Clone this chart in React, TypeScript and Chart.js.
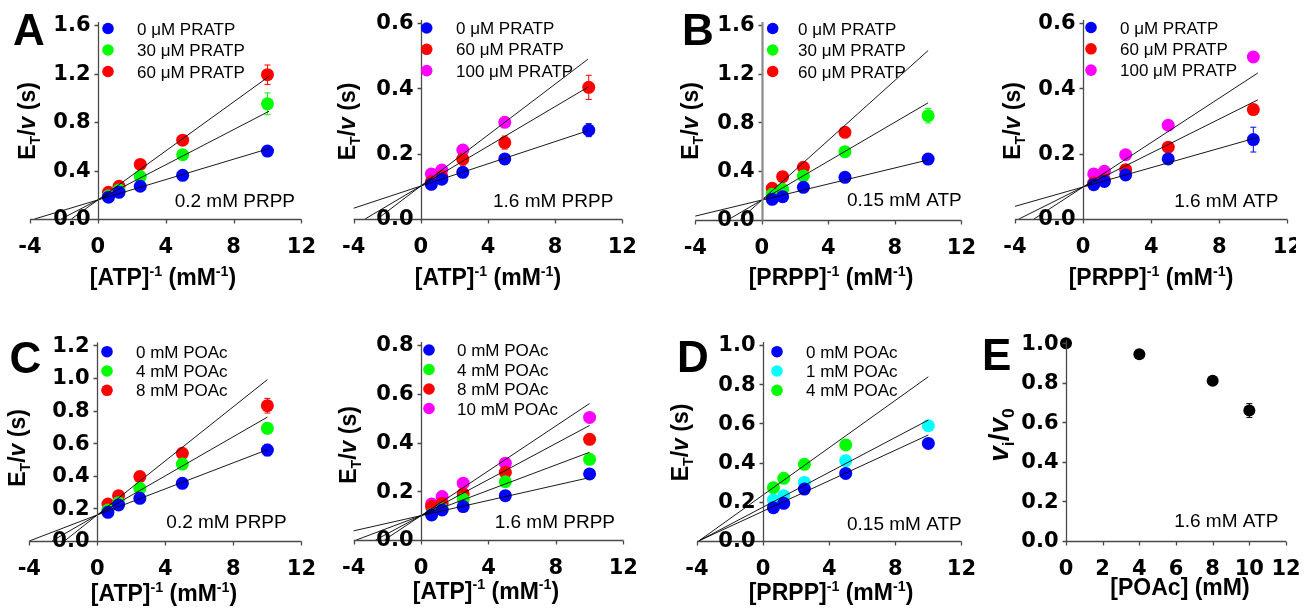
import React, { useEffect, useRef } from 'react';
import { Chart, registerables } from 'chart.js';

Chart.register(...registerables);

// ---------------- data ----------------
const invConc = [0.625, 1.25, 2.5, 5, 10]; // reciprocal substrate conc. (mM^-1)
const poacConc = [0, 4, 8, 10]; // mM

// Panel A, left: 0.2 mM PRPP, ATP varied
const a1Pratp0 = [0.18, 0.22, 0.27, 0.36, 0.56];
const a1Pratp30 = [0.19, 0.24, 0.35, 0.53, 0.95];
const a1Pratp60 = [0.22, 0.27, 0.45, 0.65, 1.19];
const a1Err0 = [0, 0, 0, 0.01, 0.02];
const a1Err30 = [0, 0, 0.02, 0.03, 0.09];
const a1Err60 = [0, 0, 0.02, 0.02, 0.08];
const a1FitSlopes = [0.042, 0.0725, 0.101];
const a1FitIntercepts = [0.157, 0.157, 0.157];
const a1FitEnd = 10.1;

// Panel A, right: 1.6 mM PRPP
const a2Pratp0 = [0.106, 0.122, 0.143, 0.184, 0.272];
const a2Pratp60 = [0.114, 0.13, 0.183, 0.234, 0.403];
const a2Pratp100 = [0.138, 0.15, 0.211, 0.296, null];
const a2Err0 = [0, 0, 0.005, 0.006, 0.02];
const a2Err60 = [0, 0, 0.018, 0.02, 0.037];
const a2Err100 = [0, 0, 0, 0, null];
const a2FitSlopes = [0.017, 0.0304, 0.039];
const a2FitIntercepts = [0.101, 0.101, 0.101];
const a2FitEnd = 9.95;

// Panel B, left: 0.15 mM ATP, PRPP varied
const b1Pratp0 = [0.166, 0.188, 0.265, 0.347, 0.497];
const b1Pratp30 = [0.207, 0.248, 0.358, 0.558, 0.854];
const b1Pratp60 = [0.257, 0.352, 0.429, 0.717, null];
const b1Err0 = [0, 0, 0, 0.01, 0.015];
const b1Err30 = [0, 0, 0.02, 0.04, 0.06];
const b1Err60 = [0, 0, 0.02, 0.02, null];
const b1FitSlopes = [0.033, 0.08, 0.123];
const b1FitIntercepts = [0.16, 0.16, 0.16];
const b1FitEnd = 10.0;

// Panel B, right: 1.6 mM ATP
const b2Pratp0 = [0.105, 0.115, 0.135, 0.184, 0.243];
const b2Pratp60 = [0.11, 0.12, 0.151, 0.22, 0.335];
const b2Pratp100 = [0.138, 0.146, 0.197, 0.287, 0.496];
const b2Err0 = [0, 0, 0.005, 0.008, 0.038];
const b2Err60 = [0, 0, 0.01, 0.01, 0.015];
const b2Err100 = [0, 0, 0, 0, 0.015];
const b2FitSlopes = [0.0148, 0.026, 0.034];
const b2FitIntercepts = [0.098, 0.098, 0.098];
const b2FitEnd = 10.26;

// Panel C, left: 0.2 mM PRPP, ATP varied
const c1Poac0 = [0.176, 0.221, 0.262, 0.354, 0.558];
const c1Poac4 = [0.19, 0.235, 0.323, 0.472, 0.691];
const c1Poac8 = [0.227, 0.278, 0.395, 0.538, 0.83];
const c1Err0 = [0, 0, 0.01, 0.01, 0.035];
const c1Err4 = [0, 0, 0.02, 0.02, 0.02];
const c1Err8 = [0, 0, 0.01, 0.02, 0.045];
const c1FitSlopes = [0.04, 0.06, 0.083];
const c1FitIntercepts = [0.16, 0.16, 0.16];
const c1FitEnd = 10.0;

// Panel C, right: 1.6 mM PRPP
const c2Poac0 = [0.103, 0.123, 0.137, 0.182, 0.271];
const c2Poac4 = [0.105, 0.127, 0.167, 0.239, 0.331];
const c2Poac8 = [0.137, 0.15, 0.189, 0.278, 0.413];
const c2Poac10 = [0.148, 0.178, 0.233, 0.315, 0.503];
const c2Err0 = [0, 0, 0.005, 0.005, 0.01];
const c2Err4 = [0, 0, 0.005, 0.01, 0.01];
const c2Err8 = [0, 0, 0.01, 0.012, 0.01];
const c2Err10 = [0, 0, 0.005, 0.01, 0.01];
const c2FitSlopes = [0.0156, 0.026, 0.037, 0.046];
const c2FitIntercepts = [0.1, 0.1, 0.1, 0.1];
const c2FitEnd = 10.0;

// Panel D: 0.15 mM ATP, PRPP varied
const dPoac0 = [0.17, 0.192, 0.265, 0.345, 0.498];
const dPoac1 = [0.209, 0.231, 0.299, 0.41, 0.588];
const dPoac4 = [0.272, 0.32, 0.391, 0.49, null];
const dErr0 = [0, 0.01, 0.01, 0.01, 0.02];
const dErr1 = [0, 0, 0, 0.01, 0.01];
const dErr4 = [0, 0, 0, 0.01, null];
const dFitSlopes = [0.0389, 0.0444, 0.0603];
const dFitIntercepts = [0.152, 0.173, 0.235];
const dFitEnd = 10.0;

// Panel E: 1.6 mM ATP
const eRatio = [1.0, 0.945, 0.81, 0.66];
const eErr = [0, 0.01, 0.012, 0.035];

// ---------------- styling ----------------
const SANS = '"Liberation Sans", Arial, sans-serif';
const TICK_FAMILY = '"DejaVu Sans", sans-serif';
const TICK_FONT = { family: TICK_FAMILY, size: 21, weight: 'bold' as const };
const BLUE = '#0000ff';
const GREEN = '#00ff00';
const RED = '#ff0000';
const MAGENTA = '#ff00ff';
const CYAN = '#00ffff';
const AXIS = '#4a4a4a';

type Seg = { t: string; sub?: boolean; sup?: boolean; italic?: boolean };
type Series = { label: string; color: string; values: (number | null)[]; errors: (number | null)[] };
type Fits = { slopes: number[]; intercepts: number[]; end: number };
type PanelCfg = {
  key: string;
  canvas: { left: number; top: number; width: number; height: number; clipWidth?: number };
  area: { left: number; top: number; right: number; bottom: number };
  x: { min: number; max: number; step: number };
  y: { max: number; step: number };
  yAxis?: { color: string; width: number };
  letter?: { text: string; x: number; y: number };
  yTitle: { segs: Seg[]; x: number; y: number; size: number };
  xTitle: { segs: Seg[]; x: number; y: number; size: number };
  legend?: { markerX: number; textX: number; y0: number; dy: number };
  note: { text: string; x: number; y: number };
  xs: number[];
  series: Series[];
  fits?: Fits;
  pointRadius: number;
};

const Y_ET: Seg[] = [{ t: 'E' }, { t: 'T', sub: true }, { t: '/' }, { t: 'v', italic: true }, { t: ' (s)' }];
const Y_VIV0: Seg[] = [{ t: 'v', italic: true }, { t: 'i', sub: true }, { t: '/' }, { t: 'v', italic: true }, { t: '0', sub: true }];
const xRecip = (name: string): Seg[] => [
  { t: `[${name}]` },
  { t: '-1', sup: true },
  { t: ' (mM' },
  { t: '-1', sup: true },
  { t: ')' },
];
const X_POAC: Seg[] = [{ t: '[POAc] (mM)' }];

const ser = (label: string, color: string, values: (number | null)[], errors: (number | null)[]): Series => ({
  label,
  color,
  values,
  errors,
});

const PANELS: PanelCfg[] = [
  {
    key: 'A1',
    canvas: { left: 0, top: 0, width: 328, height: 305 },
    area: { left: 30, top: 25, right: 302, bottom: 219 },
    x: { min: -4, max: 12, step: 4 },
    y: { max: 1.6, step: 0.4 },
    letter: { text: 'A', x: 13, y: 45 },
    yTitle: { segs: Y_ET, x: 34.7, y: 121, size: 23 },
    xTitle: { segs: xRecip('ATP'), x: 163, y: 285, size: 23 },
    legend: { markerX: 108, textX: 137, y0: 28.5, dy: 21.5 },
    note: { text: '0.2 mM PRPP', x: 295, y: 207 },
    xs: invConc,
    series: [
      ser('0 μM PRATP', BLUE, a1Pratp0, a1Err0),
      ser('30 μM PRATP', GREEN, a1Pratp30, a1Err30),
      ser('60 μM PRATP', RED, a1Pratp60, a1Err60),
    ],
    fits: { slopes: a1FitSlopes, intercepts: a1FitIntercepts, end: a1FitEnd },
    pointRadius: 6.5,
  },
  {
    key: 'A2',
    canvas: { left: 330, top: 0, width: 328, height: 305 },
    area: { left: 349, top: 23, right: 622.3, bottom: 219 },
    x: { min: -4, max: 12, step: 4 },
    y: { max: 0.6, step: 0.2 },
    yTitle: { segs: Y_ET, x: 354.8, y: 121.5, size: 23 },
    xTitle: { segs: xRecip('ATP'), x: 488, y: 285, size: 23 },
    legend: { markerX: 426.7, textX: 456, y0: 28, dy: 21.3 },
    note: { text: '1.6 mM PRPP', x: 613.3, y: 207 },
    xs: invConc,
    series: [
      ser('0 μM PRATP', BLUE, a2Pratp0, a2Err0),
      ser('60 μM PRATP', RED, a2Pratp60, a2Err60),
      ser('100 μM PRATP', MAGENTA, a2Pratp100, a2Err100),
    ],
    fits: { slopes: a2FitSlopes, intercepts: a2FitIntercepts, end: a2FitEnd },
    pointRadius: 6.5,
  },
  {
    key: 'B1',
    canvas: { left: 660, top: 0, width: 328, height: 305 },
    area: { left: 695.3, top: 25, right: 967.3, bottom: 219.5 },
    x: { min: -4, max: 12, step: 4 },
    y: { max: 1.6, step: 0.4 },
    yAxis: { color: '#8a8a8a', width: 2.2 },
    letter: { text: 'B', x: 682, y: 45 },
    yTitle: { segs: Y_ET, x: 698.2, y: 121, size: 23 },
    xTitle: { segs: xRecip('PRPP'), x: 831, y: 285, size: 23 },
    legend: { markerX: 772.7, textX: 798, y0: 28.5, dy: 21.5 },
    note: { text: '0.15 mM ATP', x: 961.7, y: 206 },
    xs: invConc,
    series: [
      ser('0 μM PRATP', BLUE, b1Pratp0, b1Err0),
      ser('30 μM PRATP', GREEN, b1Pratp30, b1Err30),
      ser('60 μM PRATP', RED, b1Pratp60, b1Err60),
    ],
    fits: { slopes: b1FitSlopes, intercepts: b1FitIntercepts, end: b1FitEnd },
    pointRadius: 6.5,
  },
  {
    key: 'B2',
    canvas: { left: 985, top: 0, width: 329, height: 305, clipWidth: 311 },
    area: { left: 1015, top: 23, right: 1288, bottom: 219 },
    x: { min: -4, max: 12, step: 4 },
    y: { max: 0.6, step: 0.2 },
    yTitle: { segs: Y_ET, x: 1019.7, y: 121, size: 23 },
    xTitle: { segs: xRecip('PRPP'), x: 1151, y: 285, size: 23 },
    legend: { markerX: 1091, textX: 1120, y0: 27.5, dy: 21.3 },
    note: { text: '1.6 mM ATP', x: 1278.3, y: 206.5 },
    xs: invConc,
    series: [
      ser('0 μM PRATP', BLUE, b2Pratp0, b2Err0),
      ser('60 μM PRATP', RED, b2Pratp60, b2Err60),
      ser('100 μM PRATP', MAGENTA, b2Pratp100, b2Err100),
    ],
    fits: { slopes: b2FitSlopes, intercepts: b2FitIntercepts, end: b2FitEnd },
    pointRadius: 6.5,
  },
  {
    key: 'C1',
    canvas: { left: 0, top: 306, width: 328, height: 306 },
    area: { left: 29.3, top: 345.4, right: 301.7, bottom: 541 },
    x: { min: -4, max: 12, step: 4 },
    y: { max: 1.2, step: 0.2 },
    letter: { text: 'C', x: 9.5, y: 373 },
    yTitle: { segs: Y_ET, x: 24.7, y: 448, size: 23 },
    xTitle: { segs: xRecip('ATP'), x: 164, y: 601, size: 23 },
    legend: { markerX: 107, textX: 136, y0: 351.7, dy: 19.3 },
    note: { text: '0.2 mM PRPP', x: 286.7, y: 528 },
    xs: invConc,
    series: [
      ser('0 mM POAc', BLUE, c1Poac0, c1Err0),
      ser('4 mM POAc', GREEN, c1Poac4, c1Err4),
      ser('8 mM POAc', RED, c1Poac8, c1Err8),
    ],
    fits: { slopes: c1FitSlopes, intercepts: c1FitIntercepts, end: c1FitEnd },
    pointRadius: 6.5,
  },
  {
    key: 'C2',
    canvas: { left: 330, top: 306, width: 328, height: 306 },
    area: { left: 350, top: 345, right: 623.3, bottom: 540 },
    x: { min: -4, max: 12, step: 4 },
    y: { max: 0.8, step: 0.2 },
    yTitle: { segs: Y_ET, x: 356.2, y: 445, size: 23 },
    xTitle: { segs: xRecip('ATP'), x: 486, y: 598.5, size: 23 },
    legend: { markerX: 429, textX: 457, y0: 350, dy: 19.5 },
    note: { text: '1.6 mM PRPP', x: 615, y: 528.3 },
    xs: invConc,
    series: [
      ser('0 mM POAc', BLUE, c2Poac0, c2Err0),
      ser('4 mM POAc', GREEN, c2Poac4, c2Err4),
      ser('8 mM POAc', RED, c2Poac8, c2Err8),
      ser('10 mM POAc', MAGENTA, c2Poac10, c2Err10),
    ],
    fits: { slopes: c2FitSlopes, intercepts: c2FitIntercepts, end: c2FitEnd },
    pointRadius: 6.5,
  },
  {
    key: 'D',
    canvas: { left: 660, top: 306, width: 328, height: 306 },
    area: { left: 697, top: 345, right: 970, bottom: 541 },
    x: { min: -4, max: 12, step: 4 },
    y: { max: 1.0, step: 0.2 },
    letter: { text: 'D', x: 677, y: 372 },
    yTitle: { segs: Y_ET, x: 688.2, y: 442.5, size: 23 },
    xTitle: { segs: xRecip('PRPP'), x: 831, y: 600, size: 23 },
    legend: { markerX: 777, textX: 806, y0: 351.7, dy: 19.3 },
    note: { text: '0.15 mM ATP', x: 961.7, y: 529.5 },
    xs: invConc,
    series: [
      ser('0 mM POAc', BLUE, dPoac0, dErr0),
      ser('1 mM POAc', CYAN, dPoac1, dErr1),
      ser('4 mM POAc', GREEN, dPoac4, dErr4),
    ],
    fits: { slopes: dFitSlopes, intercepts: dFitIntercepts, end: dFitEnd },
    pointRadius: 6.5,
  },
  {
    key: 'E',
    canvas: { left: 975, top: 306, width: 339, height: 306 },
    area: { left: 1066, top: 343.3, right: 1286, bottom: 541 },
    x: { min: 0, max: 12, step: 2 },
    y: { max: 1.0, step: 0.2 },
    letter: { text: 'E', x: 982, y: 370 },
    yTitle: { segs: Y_VIV0, x: 1008, y: 435, size: 28 },
    xTitle: { segs: X_POAC, x: 1180, y: 595, size: 23 },
    note: { text: '1.6 mM ATP', x: 1278.3, y: 527 },
    xs: poacConc,
    series: [ser('v_i/v_0', '#000000', eRatio, eErr)],
    pointRadius: 6,
  },
];

// ---------------- drawing helpers ----------------
function segFont(s: Seg, size: number) {
  const fs = s.sub || s.sup ? size * 0.62 : size;
  return `${s.italic ? 'italic ' : ''}bold ${fs}px ${SANS}`;
}

function drawRich(ctx: CanvasRenderingContext2D, segs: Seg[], x: number, y: number, size: number, rotated: boolean) {
  ctx.save();
  ctx.translate(x, y);
  if (rotated) ctx.rotate(-Math.PI / 2);
  ctx.fillStyle = '#000';
  ctx.textBaseline = 'alphabetic';
  ctx.textAlign = 'left';
  const widths = segs.map((s) => {
    ctx.font = segFont(s, size);
    return ctx.measureText(s.t).width;
  });
  const total = widths.reduce((a, b) => a + b, 0);
  let cx = -total / 2;
  segs.forEach((s, i) => {
    ctx.font = segFont(s, size);
    const dy = s.sub ? size * 0.22 : s.sup ? -size * 0.4 : 0;
    ctx.fillText(s.t, cx, dy);
    cx += widths[i];
  });
  ctx.restore();
}

function makePlugin(cfg: PanelCfg) {
  const ox = cfg.canvas.left;
  const oy = cfg.canvas.top;
  const yAxisStyle = cfg.yAxis || { color: AXIS, width: 1.3 };
  return {
    id: 'decor' + cfg.key,
    beforeDatasetsDraw(chart: any) {
      const ctx: CanvasRenderingContext2D = chart.ctx;
      const xs = chart.scales.x;
      const ys = chart.scales.y;
      ctx.save();
      ctx.lineWidth = 1;
      cfg.series.forEach((s) => {
        ctx.strokeStyle = s.color;
        cfg.xs.forEach((xv, i) => {
          const v = s.values[i];
          const e = s.errors[i];
          if (v == null || !e) return;
          const px = xs.getPixelForValue(xv);
          const y1 = ys.getPixelForValue(v + e);
          const y2 = ys.getPixelForValue(v - e);
          ctx.beginPath();
          ctx.moveTo(px, y1);
          ctx.lineTo(px, y2);
          ctx.moveTo(px - 3, y1);
          ctx.lineTo(px + 3, y1);
          ctx.moveTo(px - 3, y2);
          ctx.lineTo(px + 3, y2);
          ctx.stroke();
        });
      });
      ctx.restore();
    },
    afterDraw(chart: any) {
      const ctx: CanvasRenderingContext2D = chart.ctx;
      const xs = chart.scales.x;
      const ys = chart.scales.y;
      const left = xs.getPixelForValue(cfg.x.min);
      const right = xs.getPixelForValue(cfg.x.max);
      const bottom = Math.round(ys.getPixelForValue(0)) + 0.5;
      const top = ys.getPixelForValue(cfg.y.max);
      const x0 = Math.round(xs.getPixelForValue(0)) + 0.5;
      ctx.save();
      // x axis line with outward ticks
      ctx.strokeStyle = AXIS;
      ctx.lineWidth = 1.3;
      ctx.beginPath();
      ctx.moveTo(left, bottom);
      ctx.lineTo(right, bottom);
      xs.ticks.forEach((t: any) => {
        const px = Math.round(xs.getPixelForValue(t.value)) + 0.5;
        ctx.moveTo(px, bottom);
        ctx.lineTo(px, bottom + 4);
      });
      ys.ticks.forEach((t: any) => {
        const py = Math.round(ys.getPixelForValue(t.value)) + 0.5;
        ctx.moveTo(x0, py);
        ctx.lineTo(x0 - 4, py);
      });
      ctx.stroke();
      // y axis line at x = 0
      ctx.beginPath();
      ctx.strokeStyle = yAxisStyle.color;
      ctx.lineWidth = yAxisStyle.width;
      ctx.moveTo(x0, top - 3);
      ctx.lineTo(x0, bottom);
      ctx.stroke();
      // y tick labels (left of the axis at x = 0)
      ctx.fillStyle = '#000';
      ctx.font = `bold 21px ${TICK_FAMILY}`;
      ctx.textAlign = 'right';
      ctx.textBaseline = 'middle';
      ys.ticks.forEach((t: any) => {
        ctx.fillText(Number(t.value).toFixed(1), x0 - 8, ys.getPixelForValue(t.value) + 1);
      });
      if (cfg.letter) {
        ctx.font = `bold 44px ${SANS}`;
        ctx.textAlign = 'left';
        ctx.textBaseline = 'alphabetic';
        ctx.fillText(cfg.letter.text, cfg.letter.x - ox, cfg.letter.y - oy);
      }
      drawRich(ctx, cfg.yTitle.segs, cfg.yTitle.x - ox, cfg.yTitle.y - oy, cfg.yTitle.size, true);
      drawRich(ctx, cfg.xTitle.segs, cfg.xTitle.x - ox, cfg.xTitle.y - oy, cfg.xTitle.size, false);
      if (cfg.legend) {
        const lg = cfg.legend;
        cfg.series.forEach((s, i) => {
          const yy = lg.y0 + i * lg.dy - oy;
          ctx.beginPath();
          ctx.fillStyle = s.color;
          ctx.arc(lg.markerX - ox, yy, 5.8, 0, Math.PI * 2);
          ctx.fill();
          ctx.fillStyle = '#000';
          ctx.font = `17px ${SANS}`;
          ctx.textAlign = 'left';
          ctx.textBaseline = 'alphabetic';
          ctx.fillText(s.label, lg.textX - ox, yy + 6);
        });
      }
      ctx.fillStyle = '#000';
      ctx.font = `19px ${SANS}`;
      ctx.textAlign = 'right';
      ctx.textBaseline = 'alphabetic';
      ctx.fillText(cfg.note.text, cfg.note.x - ox, cfg.note.y - oy);
      ctx.restore();
    },
  };
}

function buildConfig(cfg: PanelCfg): any {
  const datasets: any[] = [];
  cfg.series.forEach((s) => {
    const pts = cfg.xs.map((x, i) => ({ x, y: s.values[i] })).filter((p) => p.y != null);
    datasets.push({
      type: 'scatter',
      label: s.label,
      data: pts,
      showLine: false,
      pointRadius: cfg.pointRadius,
      pointBackgroundColor: s.color,
      pointBorderColor: s.color,
      pointBorderWidth: 0,
      clip: false,
      order: 2,
    });
  });
  if (cfg.fits) {
    const f = cfg.fits;
    f.slopes.forEach((m, i) => {
      const b = f.intercepts[i];
      const x0 = Math.max(cfg.x.min, -b / m);
      datasets.push({
        type: 'line',
        label: 'fit ' + cfg.series[i].label,
        data: [
          { x: x0, y: b + m * x0 },
          { x: f.end, y: b + m * f.end },
        ],
        showLine: true,
        borderColor: 'rgba(0,0,0,0.9)',
        borderWidth: 1,
        pointRadius: 0,
        fill: false,
        tension: 0,
        clip: false,
        order: 1,
      });
    });
  }
  const c = cfg.canvas;
  const a = cfg.area;
  const xAxisH = c.top + c.height - a.bottom;
  return {
    type: 'scatter',
    data: { datasets },
    options: {
      responsive: false,
      animation: false,
      devicePixelRatio: 1,
      events: [],
      layout: {
        padding: { left: a.left - c.left, top: a.top - c.top, right: c.left + c.width - a.right, bottom: 0 },
      },
      plugins: { legend: { display: false }, tooltip: { enabled: false }, title: { display: false } },
      scales: {
        x: {
          type: 'linear',
          position: 'bottom',
          min: cfg.x.min,
          max: cfg.x.max,
          afterFit: (s: any) => {
            s.height = xAxisH;
          },
          ticks: {
            stepSize: cfg.x.step,
            font: TICK_FONT,
            color: '#000',
            padding: 12,
            maxRotation: 0,
            autoSkip: false,
            callback: (v: any) => String(v),
          },
          grid: { display: false, drawOnChartArea: false, drawTicks: true, tickLength: 4 },
          border: { display: false },
          title: { display: false },
        },
        y: {
          type: 'linear',
          position: { x: 0 },
          min: 0,
          max: cfg.y.max,
          ticks: {
            stepSize: cfg.y.step,
            display: false,
            autoSkip: false,
          },
          grid: { display: false, drawOnChartArea: false, drawTicks: false },
          border: { display: false },
          title: { display: false },
        },
      },
    },
    plugins: [makePlugin(cfg)],
  };
}

function Panel({ cfg }: { cfg: PanelCfg }) {
  const ref = useRef<HTMLCanvasElement>(null);
  useEffect(() => {
    if (!ref.current) return;
    const chart = new Chart(ref.current, buildConfig(cfg));
    return () => chart.destroy();
  }, [cfg]);
  const c = cfg.canvas;
  return (
    <div
      style={{
        position: 'absolute',
        left: c.left,
        top: c.top,
        width: c.clipWidth ?? c.width,
        height: c.height,
        overflow: 'hidden',
      }}
    >
      <canvas ref={ref} width={c.width} height={c.height} style={{ width: c.width, height: c.height, display: 'block' }} />
    </div>
  );
}

export default function App() {
  return (
    <div style={{ position: 'fixed', left: 0, top: 0, width: 1314, height: 612, background: '#ffffff', overflow: 'hidden' }}>
      {PANELS.map((p) => (
        <Panel key={p.key} cfg={p} />
      ))}
    </div>
  );
}
